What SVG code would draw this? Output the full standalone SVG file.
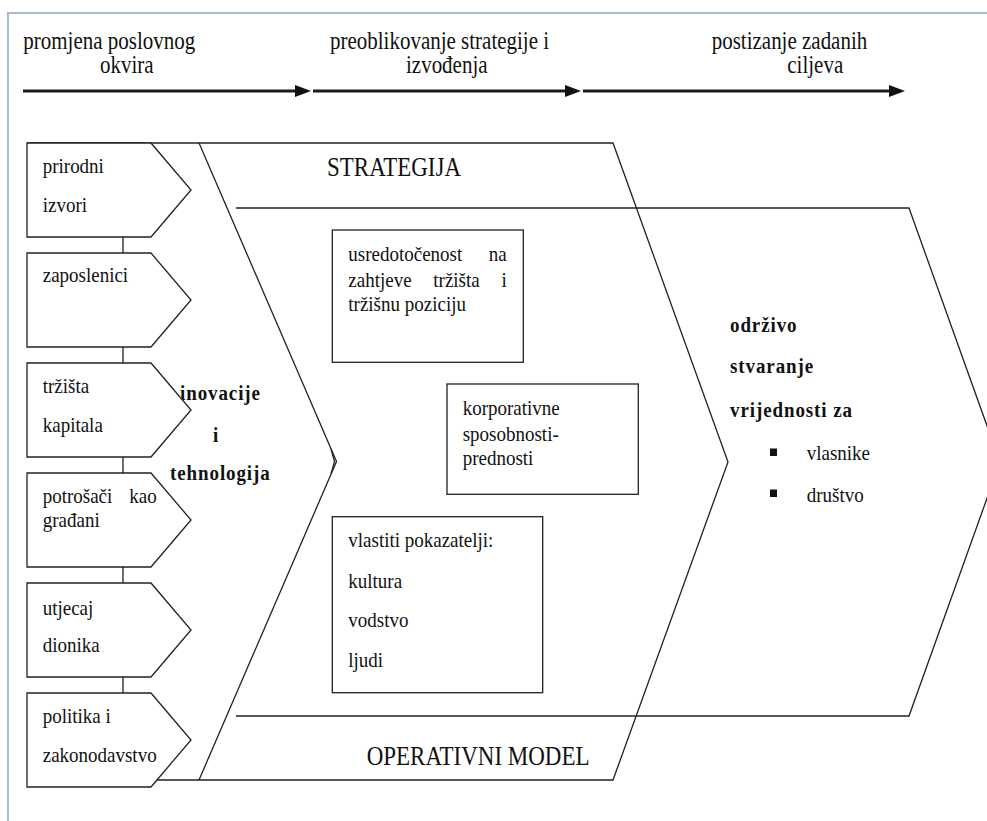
<svg xmlns="http://www.w3.org/2000/svg" width="987" height="821" viewBox="0 0 987 821">
<defs>
<style>
.ln{fill:none;stroke:#222;stroke-width:1.3;stroke-linejoin:miter}
.bx{fill:#fff;stroke:#222;stroke-width:1.3}
.fr{fill:none;stroke:#a9b9d2;stroke-width:2}
.ar{fill:none;stroke:#1a1a1a;stroke-width:3}
.t{font-family:"Liberation Serif","Times New Roman",serif;font-size:19px;fill:#111}
.h{font-size:21px}
.g{font-size:23px}
.b{font-weight:bold;letter-spacing:0.9px}
</style>
<marker id="ah" markerUnits="userSpaceOnUse" viewBox="0 0 16 12" markerWidth="16" markerHeight="12" refX="0" refY="6" orient="auto">
<path d="M0,0 L16,6 L0,12 Z" fill="#111"/>
</marker>
</defs>
<rect x="0" y="0" width="987" height="821" fill="#fff"/>
<g id="frame">
<path class="fr" d="M8,821 V13 H987"/>
</g>
<g id="timeline">
<text class="t h" transform="translate(23.3 49) scale(1 1.15)">promjena poslovnog</text>
<text class="t h" transform="translate(100 73) scale(1 1.15)">okvira</text>
<text class="t h" transform="translate(330 49) scale(1 1.15)">preoblikovanje strategije i</text>
<text class="t h" transform="translate(406 73) scale(1 1.15)">izvođenja</text>
<text class="t h" transform="translate(711.7 49) scale(1 1.15)">postizanje zadanih</text>
<text class="t h" transform="translate(787.3 73) scale(1 1.15)">ciljeva</text>
</g>
<g id="connectors">
<line class="ar" x1="23" y1="91" x2="295" y2="91" marker-end="url(#ah)"/>
<line class="ar" x1="313" y1="91" x2="565" y2="91" marker-end="url(#ah)"/>
<line class="ar" x1="583" y1="91" x2="889" y2="91" marker-end="url(#ah)"/>
<path class="ln" d="M123,237 V253 M123,347 V363 M123,457 V473 M123,567 V583 M123,677 V693"/>
</g>
<g id="strategy-operating-model">
<path class="ln" d="M199,143 L613,143 L728,462 L613,780 L199,780 L336.5,461.5 Z"/>
<path class="ln" d="M27,143 H199 M157,780 H199"/>
<path class="ln" d="M331,449 L334.5,461.5 L331,474" stroke-width="1"/>
<text class="t g" transform="translate(327 176) scale(1 1.15)">STRATEGIJA</text>
<text class="t g" transform="translate(366.7 765) scale(1 1.15)">OPERATIVNI MODEL</text>
<text class="t b" transform="translate(180 400) scale(1 1.15)">inovacije</text>
<text class="t b" transform="translate(213 441.7) scale(1 1.15)">i</text>
<text class="t b" transform="translate(170 480) scale(1 1.15)">tehnologija</text>
</g>
<g id="value-creation">
<path class="ln" d="M236,208 H909 L1000,462 L909,716 H236"/>
<text class="t b" transform="translate(730 331.7) scale(1 1.15)">održivo</text>
<text class="t b" transform="translate(730 373.3) scale(1 1.15)">stvaranje</text>
<text class="t b" transform="translate(730 416.7) scale(1 1.15)">vrijednosti za</text>
<rect x="770" y="448.5" width="7" height="7.5" fill="#111"/>
<rect x="770" y="489.5" width="7" height="7.5" fill="#111"/>
<text class="t" transform="translate(806.7 460) scale(1 1.15)">vlasnike</text>
<text class="t" transform="translate(806.7 501.7) scale(1 1.15)">društvo</text>
</g>
<g id="box-prirodni-izvori">
<path class="bx" d="M27,143 H151 L191,190 L151,237 H27 Z"/>
<text class="t" transform="translate(42.7 172.7) scale(1 1.15)">prirodni</text>
<text class="t" transform="translate(42.7 211.7) scale(1 1.15)">izvori</text>
</g>
<g id="box-zaposlenici">
<path class="bx" d="M27,253 H151 L191,300 L151,347 H27 Z"/>
<text class="t" transform="translate(42.7 282) scale(1 1.15)">zaposlenici</text>
</g>
<g id="box-trzista-kapitala">
<path class="bx" d="M27,363 H151 L191,410 L151,457 H27 Z"/>
<text class="t" transform="translate(42.7 393) scale(1 1.15)">tržišta</text>
<text class="t" transform="translate(42.7 431.7) scale(1 1.15)">kapitala</text>
</g>
<g id="box-potrosaci">
<path class="bx" d="M27,473 H151 L191,520 L151,567 H27 Z"/>
<text class="t" transform="translate(42.7 503.3) scale(1 1.15)">potrošači</text>
<text class="t" text-anchor="end" transform="translate(156.7 503.3) scale(1 1.15)">kao</text>
<text class="t" transform="translate(42.7 526.7) scale(1 1.15)">građani</text>
</g>
<g id="box-utjecaj-dionika">
<path class="bx" d="M27,583 H151 L191,630 L151,677 H27 Z"/>
<text class="t" transform="translate(42.7 615) scale(1 1.15)">utjecaj</text>
<text class="t" transform="translate(42.7 651.7) scale(1 1.15)">dionika</text>
</g>
<g id="box-politika">
<path class="bx" d="M27,693 H151 L191,740 L151,787 H27 Z"/>
<text class="t" transform="translate(42.7 723.3) scale(1 1.15)">politika i</text>
<text class="t" transform="translate(42.7 761.7) scale(1 1.15)">zakonodavstvo</text>
</g>
<g id="box-usredotocenost">
<rect class="bx" x="332.3" y="230" width="191" height="132.3"/>
<text class="t" transform="translate(348.3 260.5) scale(1 1.15)">usredotočenost</text>
<text class="t" text-anchor="end" transform="translate(506.7 260.5) scale(1 1.15)">na</text>
<text class="t" transform="translate(348.3 286.7) scale(1 1.15)">zahtjeve</text>
<text class="t" transform="translate(433.3 286.7) scale(1 1.15)">tržišta</text>
<text class="t" text-anchor="end" transform="translate(506.7 286.7) scale(1 1.15)">i</text>
<text class="t" transform="translate(348.3 310.5) scale(1 1.15)">tržišnu poziciju</text>
</g>
<g id="box-korporativne">
<rect class="bx" x="447" y="384" width="191.3" height="110.3"/>
<text class="t" transform="translate(462.7 415) scale(1 1.15)">korporativne</text>
<text class="t" transform="translate(462.7 440.5) scale(1 1.15)">sposobnosti-</text>
<text class="t" transform="translate(462.7 464.5) scale(1 1.15)">prednosti</text>
</g>
<g id="box-vlastiti-pokazatelji">
<rect class="bx" x="332.3" y="516.7" width="210.4" height="176"/>
<text class="t" transform="translate(348.3 547.3) scale(1 1.15)">vlastiti pokazatelji:</text>
<text class="t" transform="translate(348.3 588.3) scale(1 1.15)">kultura</text>
<text class="t" transform="translate(348.3 626.7) scale(1 1.15)">vodstvo</text>
<text class="t" transform="translate(348.3 666.7) scale(1 1.15)">ljudi</text>
</g>
</svg>
